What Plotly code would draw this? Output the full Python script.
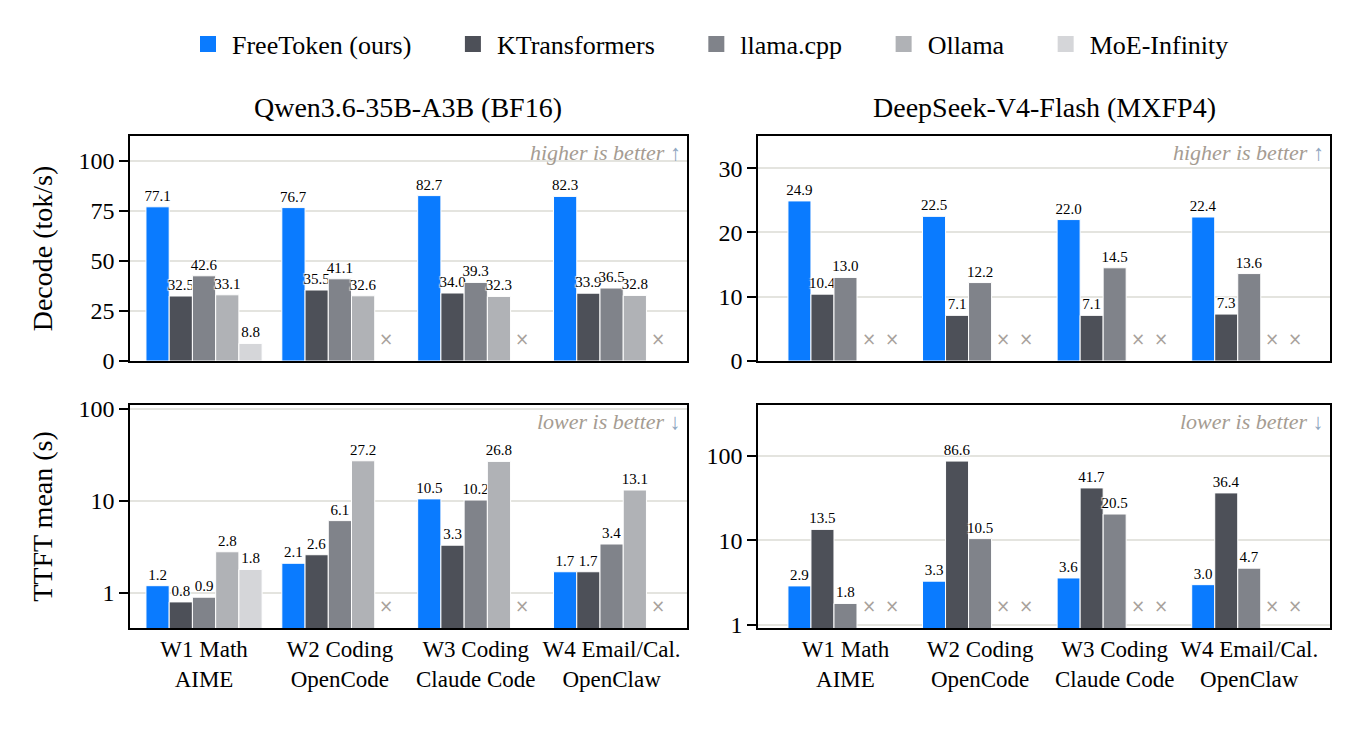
import plotly.graph_objects as go

# workloads (x categories)
workloads = ["W1 Math<br>AIME", "W2 Coding<br>OpenCode", "W3 Coding<br>Claude Code", "W4 Email/Cal.<br>OpenClaw"]
systems = ["FreeToken (ours)", "KTransformers", "llama.cpp", "Ollama", "MoE-Infinity"]
colors = ["#0a7bff", "#4d5058", "#80838a", "#b0b2b6", "#d5d6d9"]

# Decode throughput (tok/s); None = not supported
qwen_decode = {
    "FreeToken (ours)": [77.1, 76.7, 82.7, 82.3],
    "KTransformers": [32.5, 35.5, 34.0, 33.9],
    "llama.cpp": [42.6, 41.1, 39.3, 36.5],
    "Ollama": [33.1, 32.6, 32.3, 32.8],
    "MoE-Infinity": [8.8, None, None, None],
}
ds_decode = {
    "FreeToken (ours)": [24.9, 22.5, 22.0, 22.4],
    "KTransformers": [10.4, 7.1, 7.1, 7.3],
    "llama.cpp": [13.0, 12.2, 14.5, 13.6],
    "Ollama": [None, None, None, None],
    "MoE-Infinity": [None, None, None, None],
}
# TTFT mean (s)
qwen_ttft = {
    "FreeToken (ours)": [1.2, 2.1, 10.5, 1.7],
    "KTransformers": [0.8, 2.6, 3.3, 1.7],
    "llama.cpp": [0.9, 6.1, 10.2, 3.4],
    "Ollama": [2.8, 27.2, 26.8, 13.1],
    "MoE-Infinity": [1.8, None, None, None],
}
ds_ttft = {
    "FreeToken (ours)": [2.9, 3.3, 3.6, 3.0],
    "KTransformers": [13.5, 86.6, 41.7, 36.4],
    "llama.cpp": [1.8, 10.5, 20.5, 4.7],
    "Ollama": [None, None, None, None],
    "MoE-Infinity": [None, None, None, None],
}

FONT = "Liberation Serif"
GROUP = 0.855
slot = GROUP / len(systems)
halo = "1px 1px 1px white, -1px -1px 1px white, 1px -1px 1px white, -1px 1px 1px white"

# page body has an 8px margin, so the figure is laid out in shifted pixels
W, H, OFF = 1343, 725, 8
def px(v):
    return (v - OFF) / W
def py(v):
    return 1 - (v - OFF) / H

fig = go.Figure()

# legend entries (square swatches); nbsp padding widens the gaps between items
pad = "\u00a0" * 5
for k, name in enumerate(systems):
    fig.add_trace(go.Scatter(
        x=[None], y=[None], mode="markers",
        name=name + (pad if k < len(systems) - 1 else ""),
        marker=dict(symbol="square", size=30, color=colors[k]),
        showlegend=True, legendgroup=name,
    ))

panels = [(qwen_decode, "x", "y"), (ds_decode, "x2", "y2"),
          (qwen_ttft, "x3", "y3"), (ds_ttft, "x4", "y4")]
annots = []
for p, (data, xa, ya) in enumerate(panels):
    for k, name in enumerate(systems):
        vals = data[name]
        fig.add_trace(go.Bar(
            x=list(range(len(workloads))), y=vals, name=name,
            width=slot, offset=-GROUP / 2 + k * slot,
            marker=dict(color=colors[k], line=dict(color="white", width=1)),
            texttemplate="%{y:.1f}", textposition="outside", constraintext="none",
            textfont=dict(family=FONT, size=15, color="black", shadow=halo),
            cliponaxis=False, showlegend=False, legendgroup=name,
            xaxis=xa, yaxis=ya,
        ))
        for i, v in enumerate(vals):
            if v is None:
                annots.append(dict(
                    x=i - GROUP / 2 + (k + 0.5) * slot, y=0.1,
                    xref=xa, yref=ya + " domain", text="×", showarrow=False,
                    xanchor="center", yanchor="middle",
                    font=dict(family="DejaVu Sans", size=17, color="#a8a29c"),
                ))

# performance direction notes
for ya, xa, txt in [("y", "x", "higher is better ↑"), ("y2", "x2", "higher is better ↑"),
                    ("y3", "x3", "lower is better ↓"), ("y4", "x4", "lower is better ↓")]:
    word, arrow = txt[:-2], txt[-1]
    annots.append(dict(
        x=0.993, y=0.925, xref=xa + " domain", yref=ya + " domain",
        xanchor="right", yanchor="middle", showarrow=False,
        text="<i>" + word + " <span style='color:#8fa6c0'>" + arrow + "</span></i>",
        font=dict(family=FONT, size=22, color="#a59c92"),
    ))

# panel titles
for x, t in [(px(408), "Qwen3.6-35B-A3B (BF16)"), (px(1044), "DeepSeek-V4-Flash (MXFP4)")]:
    annots.append(dict(x=x, y=py(107), xref="paper", yref="paper", text=t,
                       xanchor="center", yanchor="middle",
                       showarrow=False, font=dict(family=FONT, size=28, color="black")))

left_dom = [px(130), px(687)]
right_dom = [px(758), px(1330)]
top_dom = [py(361), py(136)]
bot_dom = [py(628), py(405)]

axis_common = dict(showline=True, mirror=True, linecolor="black", linewidth=1.6, automargin=False)
xcommon = dict(axis_common, tickvals=list(range(4)), ticks="", showgrid=False, zeroline=False,
               tickangle=0)
ycommon = dict(axis_common, ticks="outside", ticklen=9, tickwidth=1.5, tickcolor="black",
               showgrid=True, gridcolor="#e4e4df", gridwidth=1.5, zeroline=False,
               tickfont=dict(family=FONT, size=24, color="black"))
xtickfont = dict(family=FONT, size=23, color="black")

fig.update_layout(
    width=W, height=H,
    margin=dict(l=0, r=0, t=0, b=0, autoexpand=False),
    paper_bgcolor="white", plot_bgcolor="white",
    barmode="overlay",
    font=dict(family=FONT, color="black"),
    legend=dict(orientation="h", x=px(709), xanchor="center", y=py(44), yanchor="middle",
                font=dict(family=FONT, size=26), itemsizing="trace", itemwidth=38,
                traceorder="normal"),
    annotations=annots,
    xaxis=dict(xcommon, domain=left_dom, range=[-0.545, 3.555], anchor="y", showticklabels=False),
    xaxis2=dict(xcommon, domain=right_dom, range=[-0.65, 3.6], anchor="y2", showticklabels=False),
    xaxis3=dict(xcommon, domain=left_dom, range=[-0.545, 3.555], anchor="y3", ticktext=workloads,
                tickfont=xtickfont),
    xaxis4=dict(xcommon, domain=right_dom, range=[-0.65, 3.6], anchor="y4", ticktext=workloads,
                tickfont=xtickfont),
    yaxis=dict(ycommon, domain=top_dom, range=[0, 112.5], tickvals=[0, 25, 50, 75, 100], anchor="x",
               title=dict(text="Decode (tok/s)", font=dict(family=FONT, size=28), standoff=18)),
    yaxis2=dict(ycommon, domain=top_dom, range=[0, 35], tickvals=[0, 10, 20, 30], anchor="x2"),
    yaxis3=dict(ycommon, domain=bot_dom, type="log", range=[-0.38, 2.04], tickvals=[1, 10, 100],
                ticktext=["1", "10", "100"], anchor="x3",
                title=dict(text="TTFT mean (s)", font=dict(family=FONT, size=28), standoff=18)),
    yaxis4=dict(ycommon, domain=bot_dom, type="log", range=[-0.035, 2.6], tickvals=[1, 10, 100],
                ticktext=["1", "10", "100"], anchor="x4"),
)

fig.write_html("out.html")
